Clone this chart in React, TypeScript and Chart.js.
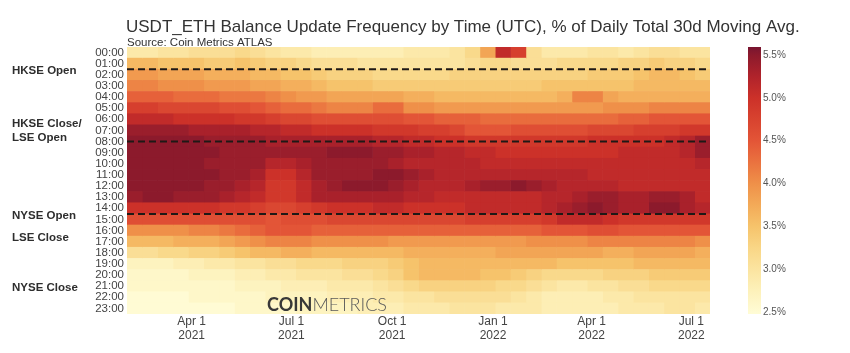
import React, { useEffect, useRef } from 'react';
import { Chart, registerables } from 'chart.js';

Chart.register(...registerables);

// ---- data ----
const HOURS = [
  '00:00', '01:00', '02:00', '03:00', '04:00', '05:00', '06:00', '07:00',
  '08:00', '09:00', '10:00', '11:00', '12:00', '13:00', '14:00', '15:00',
  '16:00', '17:00', '18:00', '19:00', '20:00', '21:00', '22:00', '23:00',
];

// columns: two-week periods starting 2021-02-01 (days since start)
const COLUMN_DAYS = 14;
const TOTAL_DAYS = 532;

const H00 = [2.9,2.9,3.0,3.0,3.1,3.1,3.1,3.2,3.1,3.0, 2.9,2.9,2.8,2.8,2.8,2.8,2.8,2.8,2.9,2.9, 2.9,3.0,3.2,3.8,5.1,4.8,3.1,2.9,2.9,2.9, 3.0,3.0,2.9,3.0,3.1,3.1,3.0,3.0];
const H01 = [3.6,3.6,3.5,3.5,3.5,3.4,3.4,3.5,3.4,3.3, 3.3,3.2,3.1,3.1,3.1,3.0,3.0,3.0,3.0,3.0, 3.0,3.0,3.1,3.2,3.2,3.1,3.1,3.1,3.2,3.2, 3.2,3.2,3.3,3.3,3.4,3.3,3.3,3.2];
const H02 = [3.9,3.9,3.8,3.8,3.8,3.7,3.7,3.7,3.6,3.6, 3.5,3.5,3.4,3.3,3.3,3.3,3.2,3.2,3.2,3.2, 3.2,3.3,3.3,3.3,3.3,3.3,3.3,3.3,3.3,3.3, 3.4,3.4,3.4,3.5,3.6,3.6,3.5,3.4];
const H03 = [4.1,4.1,4.0,4.0,4.0,3.9,3.9,3.9,3.8,3.8, 3.7,3.7,3.6,3.5,3.5,3.5,3.4,3.4,3.4,3.4, 3.4,3.4,3.4,3.4,3.4,3.4,3.4,3.5,3.5,3.5, 3.5,3.5,3.5,3.6,3.6,3.6,3.6,3.6];
const H04 = [4.4,4.4,4.4,4.3,4.3,4.3,4.2,4.2,4.2,4.1, 4.0,3.9,3.9,3.8,3.8,3.8,3.8,3.8,3.7,3.7, 3.6,3.6,3.6,3.6,3.6,3.6,3.6,3.6,3.7,4.1, 4.1,3.8,3.7,3.7,3.7,3.7,3.7,3.7];
const H05 = [4.8,4.8,4.7,4.7,4.7,4.7,4.6,4.6,4.5,4.4, 4.3,4.3,4.2,4.1,4.1,4.1,4.3,4.3,4.0,4.0, 3.9,3.9,3.9,3.9,3.9,3.9,3.9,3.9,3.9,3.9, 3.9,4.0,4.0,4.0,4.1,4.1,4.1,4.1];
const H06 = [5.1,5.1,5.1,5.0,5.0,5.0,5.0,4.9,4.9,4.8, 4.7,4.7,4.6,4.6,4.6,4.6,4.6,4.6,4.5,4.5, 4.4,4.4,4.4,4.3,4.3,4.3,4.3,4.3,4.3,4.3, 4.3,4.3,4.4,4.4,4.5,4.5,4.5,4.5];
const H07 = [5.4,5.4,5.4,5.4,5.3,5.3,5.3,5.3,5.2,5.2, 5.1,5.1,5.0,5.0,5.0,5.0,4.9,4.9,4.9,4.8, 4.8,4.7,4.5,4.5,4.5,4.6,4.6,4.6,4.6,4.6, 4.7,4.7,4.7,4.8,4.8,4.8,4.9,4.9];
const H08 = [5.5,5.5,5.5,5.5,5.5,5.4,5.4,5.4,5.4,5.3, 5.3,5.3,5.3,5.3,5.3,5.3,5.2,5.2,5.1,5.1, 5.0,5.0,4.9,4.9,4.9,4.9,4.9,4.9,4.9,4.9, 5.0,5.0,5.0,5.0,5.0,5.1,5.2,5.4];
const H09 = [5.5,5.5,5.5,5.5,5.5,5.5,5.4,5.4,5.4,5.4, 5.4,5.4,5.4,5.5,5.5,5.5,5.4,5.4,5.3,5.3, 5.2,5.2,5.1,5.1,5.0,5.0,5.0,5.0,5.0,5.0, 5.0,5.0,5.1,5.1,5.1,5.1,5.2,5.4];
const H10 = [5.5,5.5,5.5,5.5,5.5,5.4,5.4,5.4,5.4,5.2, 5.2,5.3,5.4,5.4,5.4,5.4,5.4,5.3,5.2,5.2, 5.2,5.2,5.2,5.1,5.1,5.1,5.1,5.1,5.1,5.1, 5.1,5.1,5.1,5.1,5.1,5.1,5.1,5.2];
const H11 = [5.5,5.5,5.5,5.5,5.5,5.5,5.4,5.4,5.3,5.0, 5.0,5.2,5.4,5.4,5.4,5.4,5.5,5.5,5.4,5.3, 5.2,5.2,5.2,5.2,5.2,5.2,5.2,5.2,5.2,5.2, 5.1,5.1,5.1,5.1,5.1,5.1,5.1,5.1];
const H12 = [5.5,5.5,5.5,5.5,5.5,5.4,5.4,5.3,5.2,4.9, 4.9,5.1,5.3,5.4,5.5,5.5,5.5,5.4,5.3,5.2, 5.2,5.2,5.3,5.4,5.4,5.5,5.4,5.3,5.2,5.2, 5.2,5.2,5.1,5.1,5.1,5.1,5.1,5.1];
const H13 = [5.4,5.5,5.5,5.4,5.4,5.4,5.3,5.2,5.1,4.9, 4.9,5.1,5.3,5.3,5.3,5.3,5.3,5.3,5.2,5.2, 5.1,5.1,5.1,5.1,5.1,5.1,5.1,5.2,5.2,5.3, 5.4,5.4,5.3,5.3,5.4,5.4,5.3,5.1];
const H14 = [5.0,5.0,5.0,5.0,5.0,5.0,4.9,4.9,4.8,4.7, 4.7,4.8,4.9,5.0,5.0,5.0,5.1,5.1,5.0,5.0, 5.0,5.0,5.1,5.1,5.1,5.1,5.1,5.2,5.3,5.4, 5.5,5.4,5.3,5.3,5.5,5.5,5.3,5.2];
const H15 = [4.6,4.6,4.6,4.6,4.6,4.6,4.6,4.6,4.6,4.5, 4.6,4.6,4.6,4.7,4.7,4.7,4.7,4.7,4.7,4.7, 4.7,4.7,4.8,4.8,4.8,4.8,4.8,4.9,5.1,5.1, 5.1,5.0,4.9,4.9,4.9,4.9,4.9,4.9];
const H16 = [4.0,4.0,4.0,4.0,4.1,4.1,4.2,4.3,4.4,4.5, 4.5,4.5,4.4,4.4,4.4,4.4,4.4,4.4,4.4,4.4, 4.4,4.4,4.4,4.4,4.4,4.4,4.4,4.5,4.5,4.5, 4.6,4.6,4.5,4.5,4.5,4.5,4.5,4.5];
const H17 = [3.6,3.6,3.6,3.7,3.7,3.7,3.8,3.9,4.0,4.1, 4.1,4.1,4.0,4.0,4.0,4.0,4.0,3.9,3.9,3.9, 3.9,3.9,3.9,3.9,3.9,3.9,4.0,4.0,4.0,4.0, 4.1,4.1,4.1,4.1,4.1,4.1,4.1,4.0];
const H18 = [3.1,3.1,3.2,3.2,3.3,3.3,3.4,3.5,3.6,3.6, 3.7,3.7,3.6,3.6,3.6,3.6,3.6,3.6,3.7,3.7, 3.7,3.7,3.7,3.7,3.8,3.8,3.8,3.8,3.8,3.8, 3.8,3.7,3.7,3.8,3.8,3.8,3.8,3.7];
const H19 = [2.7,2.7,2.7,2.8,2.8,2.9,2.9,3.0,3.0,3.1, 3.1,3.2,3.2,3.2,3.3,3.3,3.3,3.4,3.5,3.6, 3.6,3.6,3.6,3.6,3.6,3.6,3.6,3.6,3.5,3.5, 3.5,3.5,3.5,3.6,3.6,3.6,3.6,3.6];
const H20 = [2.6,2.6,2.6,2.6,2.7,2.7,2.7,2.8,2.8,2.9, 2.9,3.0,3.0,3.0,3.1,3.1,3.2,3.3,3.5,3.6, 3.6,3.6,3.6,3.5,3.5,3.4,3.3,3.2,3.2,3.2, 3.2,3.3,3.3,3.3,3.4,3.4,3.4,3.4];
const H21 = [2.6,2.6,2.6,2.6,2.6,2.6,2.6,2.7,2.7,2.7, 2.8,2.8,2.8,2.9,2.9,2.9,3.0,3.1,3.2,3.3, 3.3,3.3,3.3,3.3,3.2,3.2,3.1,3.0,2.9,2.9, 3.0,3.0,3.1,3.1,3.2,3.2,3.2,3.2];
const H22 = [2.5,2.5,2.5,2.5,2.6,2.6,2.6,2.6,2.6,2.7, 2.7,2.7,2.7,2.8,2.8,2.8,2.9,2.9,3.0,3.0, 3.1,3.1,3.1,3.1,3.1,3.0,2.9,2.8,2.8,2.8, 2.8,2.9,2.9,3.0,3.0,3.0,3.0,3.0];
const H23 = [2.5,2.5,2.5,2.5,2.5,2.5,2.5,2.6,2.6,2.6, 2.6,2.7,2.7,2.7,2.7,2.8,2.8,2.8,2.9,2.9, 2.9,3.0,3.0,3.0,2.9,2.9,2.9,2.8,2.8,2.8, 2.8,2.8,2.9,2.9,2.9,3.0,3.0,2.9];

const GRID = [H00,H01,H02,H03,H04,H05,H06,H07,H08,H09,H10,H11,H12,H13,H14,H15,H16,H17,H18,H19,H20,H21,H22,H23];

const TICK_DAYS = [59, 150, 242, 334, 424, 515];
const TICK_LABELS = [
  ['Apr 1', '2021'], ['Jul 1', '2021'], ['Oct 1', '2021'],
  ['Jan 1', '2022'], ['Apr 1', '2022'], ['Jul 1', '2022'],
];

const CB_TICKS = [2.5, 3.0, 3.5, 4.0, 4.5, 5.0, 5.5];
const CB_MIN = 2.477;
const CB_MAX = 5.594;

// market events (hour-row positions) and their labels
const MARKET_LINES = [1.5, 8, 14.5];
const MARKET_LABELS: { text: string; at: number }[] = [
  { text: 'HKSE Open', at: 1.66 },
  { text: 'HKSE Close/', at: 6.42 },
  { text: 'LSE Open', at: 7.62 },
  { text: 'NYSE Open', at: 14.66 },
  { text: 'LSE Close', at: 16.64 },
  { text: 'NYSE Close', at: 21.19 },
];

const TITLE = 'USDT_ETH Balance Update Frequency by Time (UTC), % of Daily Total 30d Moving Avg.';
const SUBTITLE = 'Source: Coin Metrics ATLAS';

// ---- colour map ----
const STOPS: [number, string][] = [
  [2.477, '#fffcd6'], [2.75, '#fdf1ba'], [3.0, '#fbe4a0'], [3.25, '#f9d686'],
  [3.5, '#f6c36b'], [3.75, '#f3aa58'], [4.0, '#ef9049'], [4.25, '#ea723f'],
  [4.5, '#e35537'], [4.75, '#d8432f'], [5.0, '#cc3129'], [5.25, '#b0232b'],
  [5.5, '#8c1a2c'], [5.594, '#781530'],
];

function hexToRgb(h: string) {
  const n = parseInt(h.slice(1), 16);
  return [(n >> 16) & 255, (n >> 8) & 255, n & 255];
}

function colorFor(v: number) {
  if (v <= STOPS[0][0]) return STOPS[0][1];
  for (let i = 1; i < STOPS.length; i++) {
    if (v <= STOPS[i][0]) {
      const [v0, c0] = STOPS[i - 1];
      const [v1, c1] = STOPS[i];
      const t = (v - v0) / (v1 - v0);
      const a = hexToRgb(c0), b = hexToRgb(c1);
      const m = a.map((x, k) => Math.round(x + (b[k] - x) * t));
      return `rgb(${m[0]},${m[1]},${m[2]})`;
    }
  }
  return STOPS[STOPS.length - 1][1];
}

const FONT = "'Liberation Sans', Arial, Helvetica, sans-serif";

const overlayPlugin = {
  id: 'overlay',
  afterDatasetsDraw(chart: any) {
    const { ctx, chartArea, scales } = chart;
    ctx.save();
    // dashed market lines
    ctx.setLineDash([7, 4]);
    ctx.lineWidth = 2;
    ctx.strokeStyle = '#1e1916';
    for (const v of MARKET_LINES) {
      const y = scales.y.getPixelForValue(v);
      ctx.beginPath();
      ctx.moveTo(chartArea.left, y);
      ctx.lineTo(chartArea.right, y);
      ctx.stroke();
    }
    ctx.setLineDash([]);
    // watermark
    ctx.textBaseline = 'middle';
    ctx.textAlign = 'left';
    const wx = chartArea.left + 140;
    const wy = chartArea.bottom - 9;
    ctx.font = "700 18px Lato, 'Open Sans', sans-serif";
    ctx.fillStyle = '#383838';
    ctx.fillText('COIN', wx, wy);
    const w = ctx.measureText('COIN').width;
    ctx.font = "300 18px Lato, 'Open Sans', sans-serif";
    ctx.fillStyle = '#5a5a5a';
    ctx.fillText('METRICS', wx + w, wy);
    ctx.restore();
  },
  afterDraw(chart: any) {
    const { ctx, chartArea, scales } = chart;
    ctx.save();
    // title & subtitle
    ctx.textBaseline = 'middle';
    ctx.textAlign = 'left';
    ctx.fillStyle = '#333333';
    ctx.font = `17px ${FONT}`;
    ctx.fillText(TITLE, chartArea.left - 1, 27);
    ctx.font = `11.5px ${FONT}`;
    ctx.fillText(SUBTITLE, chartArea.left, 43);
    // market labels
    ctx.font = `bold 11.5px ${FONT}`;
    ctx.fillStyle = '#2e2e2e';
    for (const m of MARKET_LABELS) {
      ctx.fillText(m.text, 12, scales.y.getPixelForValue(m.at));
    }
    // colour bar (gradient + tick labels on the 'cb' scale range)
    const cb = scales.cb;
    const lo = cb.min, hi = cb.max;
    const pix = (v: number) => cb.bottom - ((v - lo) / (hi - lo)) * (cb.bottom - cb.top);
    const g = ctx.createLinearGradient(0, cb.bottom, 0, cb.top);
    for (const [v, c] of STOPS) {
      g.addColorStop(Math.min(1, Math.max(0, (v - lo) / (hi - lo))), c);
    }
    ctx.fillStyle = g;
    ctx.fillRect(cb.left + 38, cb.top, 13, cb.bottom - cb.top);
    ctx.font = `10px ${FONT}`;
    ctx.fillStyle = '#555';
    for (const v of CB_TICKS) {
      ctx.fillText(v.toFixed(1) + '%', cb.left + 53, pix(v));
    }
    ctx.restore();
  },
};

export default function App() {
  const ref = useRef<HTMLCanvasElement | null>(null);

  useEffect(() => {
    if (!ref.current) return;
    const datasets = GRID[0].map((_, c) => ({
      label: `col${c}`,
      data: HOURS.map(() => [c * COLUMN_DAYS, (c + 1) * COLUMN_DAYS]),
      backgroundColor: HOURS.map((_, h) => colorFor(GRID[h][c])),
      borderWidth: 0,
      grouped: false,
      barPercentage: 1,
      categoryPercentage: 1,
    }));

    const chart = new Chart(ref.current, {
      type: 'bar',
      data: { labels: HOURS, datasets: datasets as any },
      options: {
        indexAxis: 'y',
        animation: false,
        responsive: true,
        maintainAspectRatio: false,
        events: [],
        layout: { padding: { top: 47, left: 0, right: 0, bottom: 0 } },
        plugins: {
          legend: { display: false },
          tooltip: { enabled: false },
          title: { display: false },
        },
        scales: {
          x: {
            type: 'linear',
            min: 0,
            max: TOTAL_DAYS,
            grid: { display: false, drawTicks: false },
            border: { display: false },
            afterBuildTicks: (s: any) => {
              s.ticks = TICK_DAYS.map((v) => ({ value: v }));
            },
            ticks: {
              autoSkip: false,
              maxRotation: 0,
              padding: 1,
              color: '#444',
              font: { size: 12, family: FONT, lineHeight: 1.17 },
              callback: (v: any) => TICK_LABELS[TICK_DAYS.indexOf(Number(v))] ?? '',
            },
            afterFit: (s: any) => {
              s.height = 39;
              s.paddingLeft = 0;
              s.paddingRight = 0;
            },
          },
          y: {
            type: 'category',
            position: 'left',
            grid: { display: false, drawTicks: false },
            border: { display: false },
            ticks: {
              autoSkip: false,
              padding: 3,
              color: '#444',
              font: { size: 11.5, family: FONT },
            },
            afterFit: (s: any) => {
              s.width = 127;
              s.paddingTop = 0;
              s.paddingBottom = 0;
            },
          },
          cb: {
            type: 'linear',
            axis: 'y',
            position: 'right',
            min: CB_MIN,
            max: CB_MAX,
            grid: { display: false, drawTicks: false },
            border: { display: false },
            ticks: { display: false },
            afterFit: (s: any) => {
              s.width = 140;
              s.paddingTop = 0;
              s.paddingBottom = 0;
            },
          },
        } as any,
      },
      plugins: [overlayPlugin],
    });
    return () => chart.destroy();
  }, []);

  return (
    <div style={{ position: 'absolute', left: 0, top: 0, width: 850, height: 353, background: '#fff' }}>
      <canvas ref={ref} />
    </div>
  );
}
